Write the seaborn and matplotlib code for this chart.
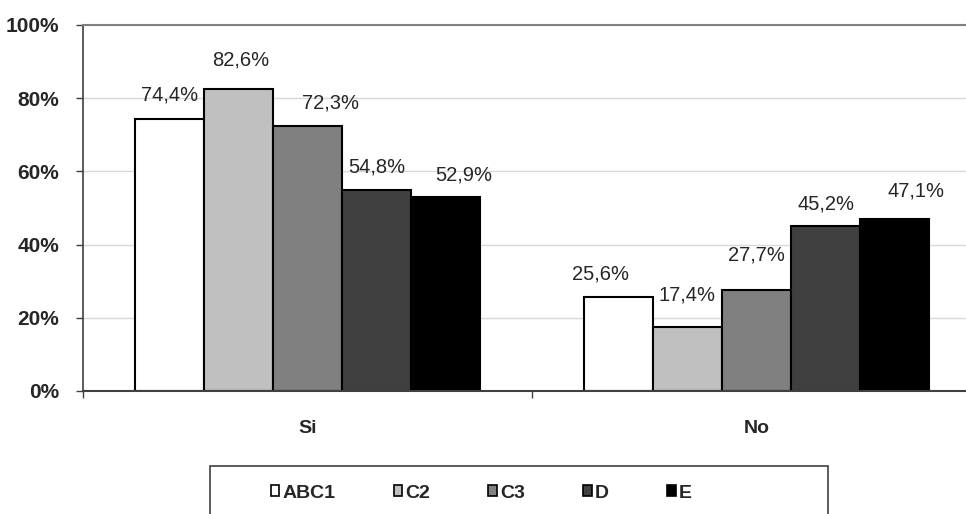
import matplotlib.pyplot as plt
import pandas as pd
import seaborn as sns
from matplotlib.patches import Patch, Rectangle
from matplotlib.ticker import FixedLocator, PercentFormatter

# Data
answers = ['Si', 'No']
groups = ['ABC1', 'C2', 'C3', 'D', 'E']
si_values = [74.4, 82.6, 72.3, 54.8, 52.9]
no_values = [25.6, 17.4, 27.7, 45.2, 47.1]
colors = ['#ffffff', '#c0c0c0', '#808080', '#404040', '#000000']

# label nudges (pixels) as placed in the original chart
si_label_offsets = [(0, 24), (2, 29), (23, 23), (0, 23), (18, 22)]
no_label_offsets = [(-18, 23), (0, 32), (0, 35), (0, 22), (21, 28)]

df = pd.DataFrame({
    'answer': [a for a in answers for _ in groups],
    'group': groups * 2,
    'value': si_values + no_values,
})

sns.set_style('white')
plt.rcParams['font.family'] = ['Liberation Sans', 'DejaVu Sans']

fig = plt.figure(figsize=(9.66, 5.14), dpi=100)
# plot area runs a little past the right edge of the picture
ax = fig.add_axes([83 / 966, 1 - 391 / 514, 898 / 966, 366 / 514])

sns.barplot(data=df, x='answer', y='value', hue='group', order=answers, hue_order=groups,
            palette=colors, width=0.77, gap=0, edgecolor='black', linewidth=1.5,
            legend=False, ax=ax)

# value labels
offsets = {'Si': si_label_offsets, 'No': no_label_offsets}
for gi, container in enumerate(ax.containers):
    for ai, bar in enumerate(container):
        value = bar.get_height()
        dx, dy = offsets[answers[ai]][gi]
        ax.annotate(f'{value:.1f}%'.replace('.', ','),
                    xy=(bar.get_x() + bar.get_width() / 2, value),
                    xytext=(dx, dy), textcoords='offset pixels',
                    ha='center', va='center', fontsize=14.5)

ax.set_xlim(-0.5, 1.5)
ax.set_ylim(0, 100)
ax.set_xlabel('')
ax.set_ylabel('')

ax.set_yticks([0, 20, 40, 60, 80, 100])
ax.yaxis.set_major_formatter(PercentFormatter(decimals=0))
ax.grid(axis='y', color='#d9d9d9', linewidth=1)
ax.set_axisbelow(True)
ax.tick_params(axis='y', left=True, direction='out', length=5, width=1, pad=12,
               labelsize=15, color='#404040')
for lab in ax.get_yticklabels():
    lab.set_fontweight('bold')

ax.tick_params(axis='x', which='major', length=0, pad=21, labelsize=14)
for lab in ax.get_xticklabels():
    lab.set_fontweight('bold')
ax.xaxis.set_minor_locator(FixedLocator([-0.5, 0.5, 1.5]))
ax.tick_params(axis='x', which='minor', bottom=True, direction='out', length=5,
               width=1, color='#404040')

ax.spines['left'].set_color('#404040')
ax.spines['left'].set_linewidth(1.2)
ax.spines['bottom'].set_color('#404040')
ax.spines['bottom'].set_linewidth(1.5)
ax.spines['top'].set_color('#808080')
ax.spines['top'].set_linewidth(1.5)
ax.spines['right'].set_visible(False)

# legend box (cut off by the lower edge, as in the original)
fig.add_artist(Rectangle((210 / 966, -0.1), 618 / 966, 0.1 + 48 / 514,
                         transform=fig.transFigure, fill=False,
                         edgecolor='#404040', linewidth=1.2, clip_on=False))
handles = [Patch(facecolor=c, edgecolor='black', linewidth=1.2) for c in colors]
fig.legend(handles, groups, loc='center left', bbox_to_anchor=(261 / 966, 1 - 493 / 514),
           ncol=5, frameon=False, borderpad=0, handlelength=0.45, handleheight=0.45,
           handletextpad=0.15, columnspacing=3.0, prop={'size': 14, 'weight': 'bold'})

fig.savefig('out.png', dpi=100)
